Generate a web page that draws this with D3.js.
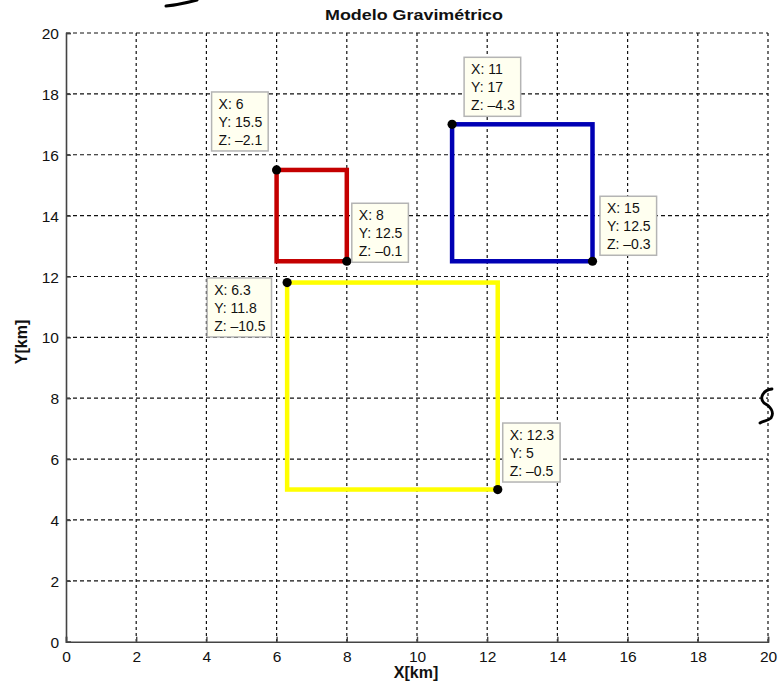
<!DOCTYPE html>
<html>
<head>
<meta charset="utf-8">
<script src="https://cdn.jsdelivr.net/npm/d3@7"></script>
<style>
  html, body { margin: 0; padding: 0; background: #fff; }
  svg { display: block; font-family: Arial, "Liberation Sans", sans-serif; }
</style>
</head>
<body>
<svg id="chart" width="778" height="687"></svg>
<script>
// Prism outlines (plan view) of the gravimetric model
const prismNames = ["rojo", "azul", "amarillo"];
const prismX0 = [6, 11, 6.3];
const prismX1 = [8, 15, 12.3];
const prismY0 = [12.5, 12.5, 5];
const prismY1 = [15.5, 17, 11.8];
const prismColors = ["#c40000", "#0000b4", "#ffff00"];

// Data tips: vertex coordinates and depth
const tipX = [6, 8, 11, 15, 6.3, 12.3];
const tipY = [15.5, 12.5, 17, 12.5, 11.8, 5];
const tipZ = [-2.1, -0.1, -4.3, -0.3, -10.5, -0.5];
// Placement of each tip box relative to its vertex (pixels, top-left corner)
const tipOffsets = [[-65, -78], [5, -58], [12, -67], [7.5, -65], [-80, -4.6], [5, -66.5]];

const xTicks = [0, 2, 4, 6, 8, 10, 12, 14, 16, 18, 20];
const yTicks = [0, 2, 4, 6, 8, 10, 12, 14, 16, 18, 20];

const title = "Modelo Gravimétrico";
const xTitle = "X[km]";
const yTitle = "Y[km]";

const svg = d3.select("#chart");
const plotLeft = 66, plotRight = 768, plotTop = 33, plotBottom = 641.7;

const x = d3.scaleLinear().domain([0, 20]).range([plotLeft, plotRight]);
const y = d3.scaleLinear().domain([0, 20]).range([plotBottom, plotTop]);

// Dashed grid
const grid = svg.append("g");
grid.selectAll("line.v").data(xTicks.slice(1)).join("line")
  .attr("x1", d => x(d)).attr("x2", d => x(d))
  .attr("y1", plotTop).attr("y2", plotBottom)
  .attr("stroke", "#111").attr("stroke-width", 1.2)
  .attr("stroke-dasharray", "3,3");
grid.selectAll("line.h").data(yTicks.slice(1)).join("line")
  .attr("x1", plotLeft).attr("x2", plotRight)
  .attr("y1", d => y(d)).attr("y2", d => y(d))
  .attr("stroke", "#111").attr("stroke-width", 1.2)
  .attr("stroke-dasharray", "4,3");

// Axes
const xAxis = d3.axisBottom(x).tickValues(xTicks).tickSize(-5).tickPadding(9);
const yAxis = d3.axisLeft(y).tickValues(yTicks).tickSize(-5).tickPadding(7);

const gx = svg.append("g").attr("transform", `translate(0,${plotBottom})`).call(xAxis);
const gy = svg.append("g").attr("transform", `translate(${plotLeft},0)`).call(yAxis);
[gx, gy].forEach(g => {
  g.select(".domain").attr("stroke", "#444").attr("stroke-width", 1.6);
  g.selectAll(".tick line").attr("stroke", "#444").attr("stroke-width", 1.4);
  g.selectAll(".tick text").attr("fill", "#111").attr("font-size", 15.5)
    .attr("font-family", "Arial, 'Liberation Sans', sans-serif");
});
gx.selectAll(".tick text").attr("dy", "0.71em");
gy.selectAll(".tick text").attr("dy", "0.36em");

// Prism outlines
const rects = prismNames.map((n, i) => ({ n, x0: prismX0[i], x1: prismX1[i], y0: prismY0[i], y1: prismY1[i], c: prismColors[i] }));
svg.append("g").selectAll("rect").data(rects).join("rect")
  .attr("x", d => x(d.x0)).attr("y", d => y(d.y1))
  .attr("width", d => x(d.x1) - x(d.x0))
  .attr("height", d => y(d.y0) - y(d.y1))
  .attr("fill", "none").attr("stroke", d => d.c).attr("stroke-width", 4.5);

// Data tip markers and labels
const tips = tipX.map((v, i) => ({ x: v, y: tipY[i], z: tipZ[i], off: tipOffsets[i] }));
const fmt = v => (v < 0 ? "\u2013" + Math.abs(v) : String(v));

svg.append("g").selectAll("circle").data(tips).join("circle")
  .attr("cx", d => x(d.x)).attr("cy", d => y(d.y)).attr("r", 4.6)
  .attr("fill", "#000");

const tipG = svg.append("g").selectAll("g").data(tips).join("g")
  .attr("transform", d => `translate(${x(d.x) + d.off[0]},${y(d.y) + d.off[1]})`);
const boxes = tipG.append("rect")
  .attr("fill", "#fffff0").attr("stroke", "#b4b4b4").attr("stroke-width", 1.5)
  .attr("height", 59);
const texts = tipG.append("g");
texts.each(function (d) {
  const g = d3.select(this);
  const lines = ["X: " + d.x, "Y: " + d.y, "Z: " + fmt(d.z)];
  lines.forEach((t, k) => {
    g.append("text").attr("x", 7).attr("y", 17 + k * 18)
      .attr("font-size", 14).attr("fill", "#111").text(t);
  });
});
boxes.each(function () {
  const parent = this.parentNode;
  let w = 0;
  d3.select(parent).selectAll("text").each(function () { w = Math.max(w, this.getComputedTextLength()); });
  d3.select(this).attr("width", w + 13);
});

// Titles
svg.append("text").attr("x", 414).attr("y", 20).attr("text-anchor", "middle")
  .attr("font-weight", "bold").attr("font-size", 14).attr("fill", "#111")
  .attr("textLength", 178).attr("lengthAdjust", "spacingAndGlyphs").text(title);
svg.append("text").attr("x", 416).attr("y", 678).attr("text-anchor", "middle")
  .attr("font-weight", "bold").attr("font-size", 16).attr("fill", "#111").text(xTitle);
svg.append("text").attr("transform", "translate(27,342) rotate(-90)").attr("text-anchor", "middle")
  .attr("font-weight", "bold").attr("font-size", 16).attr("fill", "#111").text(yTitle);

// Pen strokes on the page margins
svg.append("path").attr("d", "M166,6 C176,5 186,3 197,0")
  .attr("fill", "none").attr("stroke", "#000").attr("stroke-width", 3).attr("stroke-linecap", "round");
svg.append("path").attr("d", "M772,389 C763,390 759,398 764,403 C770,406 775,412 771,418 C768,421 763,421 760,423")
  .attr("fill", "none").attr("stroke", "#000").attr("stroke-width", 2.8).attr("stroke-linecap", "round");
</script>
</body>
</html>
